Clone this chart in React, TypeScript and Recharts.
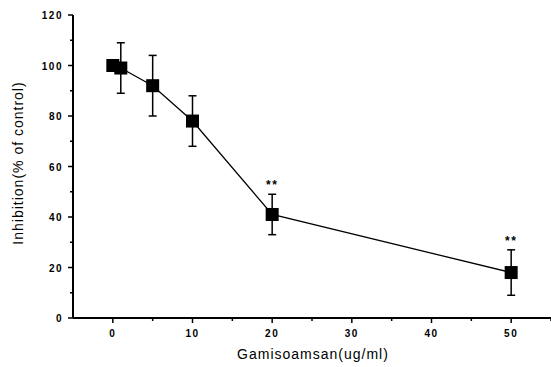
import { ComposedChart, Line, ErrorBar, Scatter, XAxis, YAxis } from "recharts";

const concentrations = [0, 1, 5, 10, 20, 50];
const inhibition = [100, 99, 92, 78, 41, 18];
const errors = [0, 10, 12, 10, 8, 9];
const significant = ["", "", "", "", "**", "**"];

const xTicks = [0, 5, 10, 15, 20, 25, 30, 35, 40, 45, 50, 55];
const xLabels = [0, 10, 20, 30, 40, 50];
const yTicks = [0, 10, 20, 30, 40, 50, 60, 70, 80, 90, 100, 110, 120];
const yLabels = [0, 20, 40, 60, 80, 100, 120];

const rows = concentrations.map((c, i) => ({
  x: c,
  y: inhibition[i],
  err: errors[i],
}));

const sigRows = concentrations
  .map((c, i) => ({ x: c, y: inhibition[i] + errors[i], mark: significant[i] }))
  .filter((r) => r.mark);

const FONT = "'Liberation Sans', Arial, sans-serif";

function XTick({ x, y, payload }: any) {
  const major = xLabels.includes(payload.value);
  return (
    <g>
      <line x1={x} y1={y} x2={x} y2={y + (major ? 5 : 3)} stroke="#000" strokeWidth={1.5} />
      {major && (
        <text
          x={x}
          y={y + 19}
          textAnchor="middle"
          fontFamily={FONT}
          fontSize={10}
          fontWeight="bold"
          letterSpacing={1.5}
          fill="#000"
        >
          {payload.value}
        </text>
      )}
    </g>
  );
}

function YTick({ x, y, payload }: any) {
  const major = yLabels.includes(payload.value);
  return (
    <g>
      <line x1={x} y1={y} x2={x - (major ? 5 : 3)} y2={y} stroke="#000" strokeWidth={1.5} />
      {major && (
        <text
          x={x - 10}
          y={y + 4}
          textAnchor="end"
          fontFamily={FONT}
          fontSize={10}
          fontWeight="bold"
          letterSpacing={1.5}
          fill="#000"
        >
          {payload.value}
        </text>
      )}
    </g>
  );
}

function SquareDot({ cx, cy }: any) {
  return <rect x={cx - 6.5} y={cy - 6.5} width={13} height={13} fill="#000" />;
}

function Stars({ cx, cy, payload }: any) {
  return (
    <text
      x={cx}
      y={cy - 5}
      textAnchor="middle"
      fontFamily={FONT}
      fontSize={12}
      fontWeight="bold"
      letterSpacing={1.5}
      fill="#000"
    >
      {payload.mark}
    </text>
  );
}

export default function App() {
  if (typeof document !== "undefined") document.body.style.margin = "0";
  return (
    <div style={{ width: 551, height: 367, background: "#fff", position: "relative" }}>
      <ComposedChart
        width={551}
        height={367}
        data={rows}
        margin={{ top: 15, right: 0, bottom: 0, left: 0 }}
      >
        <XAxis
          dataKey="x"
          type="number"
          domain={[-5, 55]}
          ticks={xTicks}
          interval={0}
          allowDataOverflow
          height={49}
          tickSize={0}
          tickMargin={0}
          tickLine={false}
          axisLine={{ stroke: "#000", strokeWidth: 2 }}
          tick={<XTick />}
        />
        <YAxis
          type="number"
          domain={[0, 120]}
          ticks={yTicks}
          interval={0}
          width={73}
          tickSize={0}
          tickMargin={0}
          tickLine={false}
          axisLine={{ stroke: "#000", strokeWidth: 2 }}
          tick={<YTick />}
        />
        <Line
          dataKey="y"
          type="linear"
          stroke="#000"
          strokeWidth={1.3}
          dot={<SquareDot />}
          activeDot={false}
          isAnimationActive={false}
        >
          <ErrorBar dataKey="err" direction="y" width={4} stroke="#000" strokeWidth={1.5} />
        </Line>
        <Scatter
          data={sigRows}
          dataKey="y"
          shape={<Stars />}
          isAnimationActive={false}
        />
      </ComposedChart>
      <div
        style={{
          position: "absolute",
          left: 0,
          top: 346,
          width: 551,
          paddingLeft: 75,
          boxSizing: "border-box",
          textAlign: "center",
          fontFamily: FONT,
          fontSize: 14,
          letterSpacing: 1,
        }}
      >
        Gamisoamsan(ug/ml)
      </div>
      <div
        style={{
          position: "absolute",
          left: 18,
          top: 163,
          transform: "translate(-50%, -50%) rotate(-90deg)",
          whiteSpace: "nowrap",
          fontFamily: FONT,
          fontSize: 14,
          letterSpacing: 1,
        }}
      >
        Inhibition(% of control)
      </div>
    </div>
  );
}
